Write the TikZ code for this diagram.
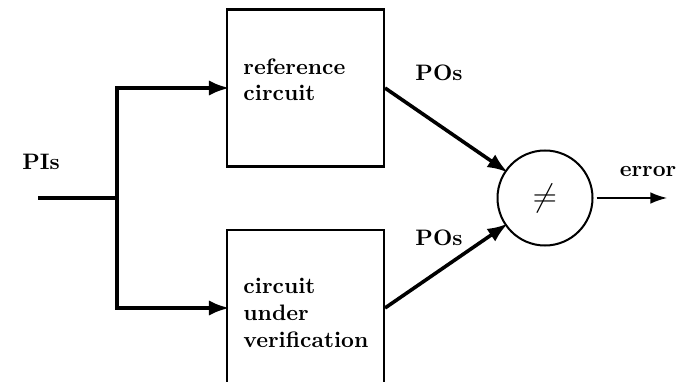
\documentclass[tikz,border=0pt]{standalone}
\usepackage{tikz}
\usetikzlibrary{positioning,calc,arrows.meta}

\begin{document}
\begin{tikzpicture}[
  x=0.01571cm, y=-0.01571cm,
  blockbox/.style={draw, line width=0.9pt, minimum width=157*0.01571cm,
                   minimum height=157*0.01571cm, inner sep=0pt},
  blocktxt/.style={anchor=north west, inner sep=0pt, align=left,
                   font=\bfseries},
  cmpnode/.style={circle, draw, line width=0.9pt, minimum size=95*0.01571cm,
                  inner sep=0pt, font=\fontsize{15}{18}\selectfont},
  sig/.style={font=\bfseries},
  busarr/.style={-{Latex[length=3.2mm, width=2.4mm]}, line width=1.6pt,
                 shorten >=-1.5pt},
  bus/.style={line width=1.6pt},
  outarr/.style={-{Latex[length=2.6mm, width=1.8mm]}, line width=0.6pt},
]

% bounding box
\useasboundingbox (0,0) rectangle (689,382);

% blocks
\node[blockbox] (ref) at (305.5,88) {};
\node[blockbox] (cuv) at (305.5,308.5) {};
\node[blocktxt] (reftxt) at (243,58) {reference\\circuit};
\node[blocktxt] (cuvtxt) at (243,278) {circuit\\under\\verification};

% comparator
\node[cmpnode] (cmp) at (545,198) {$\neq$};

% inputs
\coordinate (pi) at (38,198);
\coordinate (fork) at (117,198);
\coordinate (forktop) at (117,88);
\coordinate (forkbot) at (117,308);
\node[sig] (pilab) at (41,162) {PIs};
\draw[bus] (pi) -- (fork);
\draw[busarr] (fork) |- (ref.west |- forktop);
\draw[busarr] (fork) |- (cuv.west |- forkbot);

% outputs
\coordinate (refout) at (ref.east |- forktop);
\coordinate (cuvout) at (cuv.east |- forkbot);
\draw[busarr] (refout) -- (cmp);
\draw[busarr] (cuvout) -- (cmp);
\node[sig] (polabtop) at (439,73) {POs};
\node[sig] (polabbot) at (439,238) {POs};

% error output
\coordinate (err) at (667,198);
\draw[outarr] (cmp.east) ++(3,0) coordinate (errstart) -- (err);
\node[sig] (errlab) at (648,172) {error};

\end{tikzpicture}
\end{document}
